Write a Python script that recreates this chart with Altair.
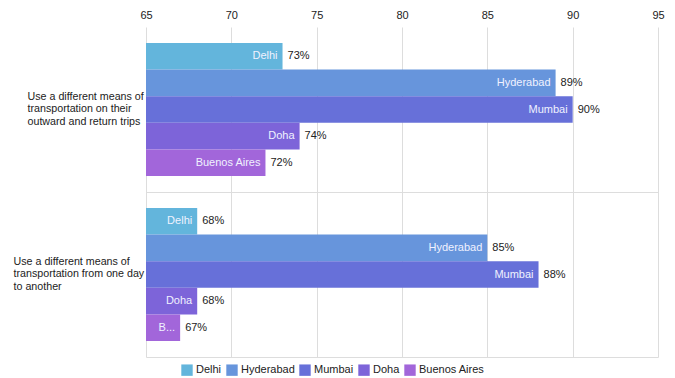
import altair as alt
import pandas as pd

categories = [
    "Use a different means of\ntransportation on their\noutward and return trips",
    "Use a different means of\ntransportation from one day\nto another",
]
cities = ["Delhi", "Hyderabad", "Mumbai", "Doha", "Buenos Aires"]
values_trips = [73, 89, 90, 74, 72]
values_days = [68, 85, 88, 68, 67]
colors = ["#63b5dc", "#6795dc", "#6770d9", "#7d64d9", "#a266da"]
x_ticks = [65, 70, 75, 80, 85, 90, 95]

rows = []
for cat, vals in zip(categories, [values_trips, values_days]):
    for c, v in zip(cities, vals):
        rows.append({"category": cat, "city": c, "value": v, "pct": f"{v}%"})
df = pd.DataFrame(rows)

FONT = "Liberation Sans"

x_enc = alt.X(
    "value:Q",
    scale=alt.Scale(domain=[65, 95], zero=False, nice=False),
    axis=alt.Axis(
        orient="top", values=x_ticks, title=None, domain=False, ticks=False,
        labelPadding=7, labelFontSize=11, labelColor="#222222", labelFont=FONT,
        grid=True, gridColor="#dddddd", labelFlush=False,
    ),
)
y_enc = alt.Y(
    "category:N", sort=categories,
    scale=alt.Scale(paddingInner=0, paddingOuter=0),
    axis=alt.Axis(
        title=None, domain=False, ticks=False, grid=True, gridColor="#dddddd",
        bandPosition=1,
        labelExpr="split(datum.label, '\\n')",
        labelAlign="left", labelBaseline="middle",
        labelPadding={"condition": {"test": "indexof(datum.value, 'one day') >= 0", "value": 133}, "value": 119},
        labelFontSize=10.7, labelFont=FONT, labelColor="#222222", labelLineHeight=12.3,
        labelOffset=-12.3, labelLimit=300,
    ),
)
yoff = alt.YOffset("city:N", sort=cities, scale=alt.Scale(paddingInner=0, paddingOuter=0.6))

base = alt.Chart(df).encode(y=y_enc, yOffset=yoff)

bars = base.mark_bar().encode(
    x=x_enc,
    x2=alt.X2(datum=65),
    color=alt.Color(
        "city:N", sort=cities,
        scale=alt.Scale(domain=cities, range=colors),
        legend=alt.Legend(
            title=None, orient="none", direction="horizontal", legendX=35, legendY=337,
            symbolType="square", symbolSize=130, symbolStrokeWidth=0, symbolOpacity=1,
            labelFontSize=11, labelFont=FONT, labelColor="#222222",
            labelOffset=3, columnPadding=4, padding=0,
        ),
    ),
)

inside = base.mark_text(
    align="right", baseline="middle", dx=-5, fontSize=11, font=FONT,
    color="#f0f2ff", ellipsis="...",
    limit={"expr": "scale('x', datum.value) - 14"},
).encode(x="value:Q", text="city:N")

outside = base.mark_text(
    align="left", baseline="middle", dx=5, fontSize=11, font=FONT, color="#222222",
).encode(x="value:Q", text="pct:N")

chart = alt.layer(bars, inside, outside).properties(
    width=512, height=330,
    autosize=alt.AutoSizeParams(type="none"),
    padding={"left": 146, "top": 27, "right": 17, "bottom": 21},
).configure_view(stroke=None)

chart.save("out.html", embed_options={"renderer": "svg", "actions": False})
